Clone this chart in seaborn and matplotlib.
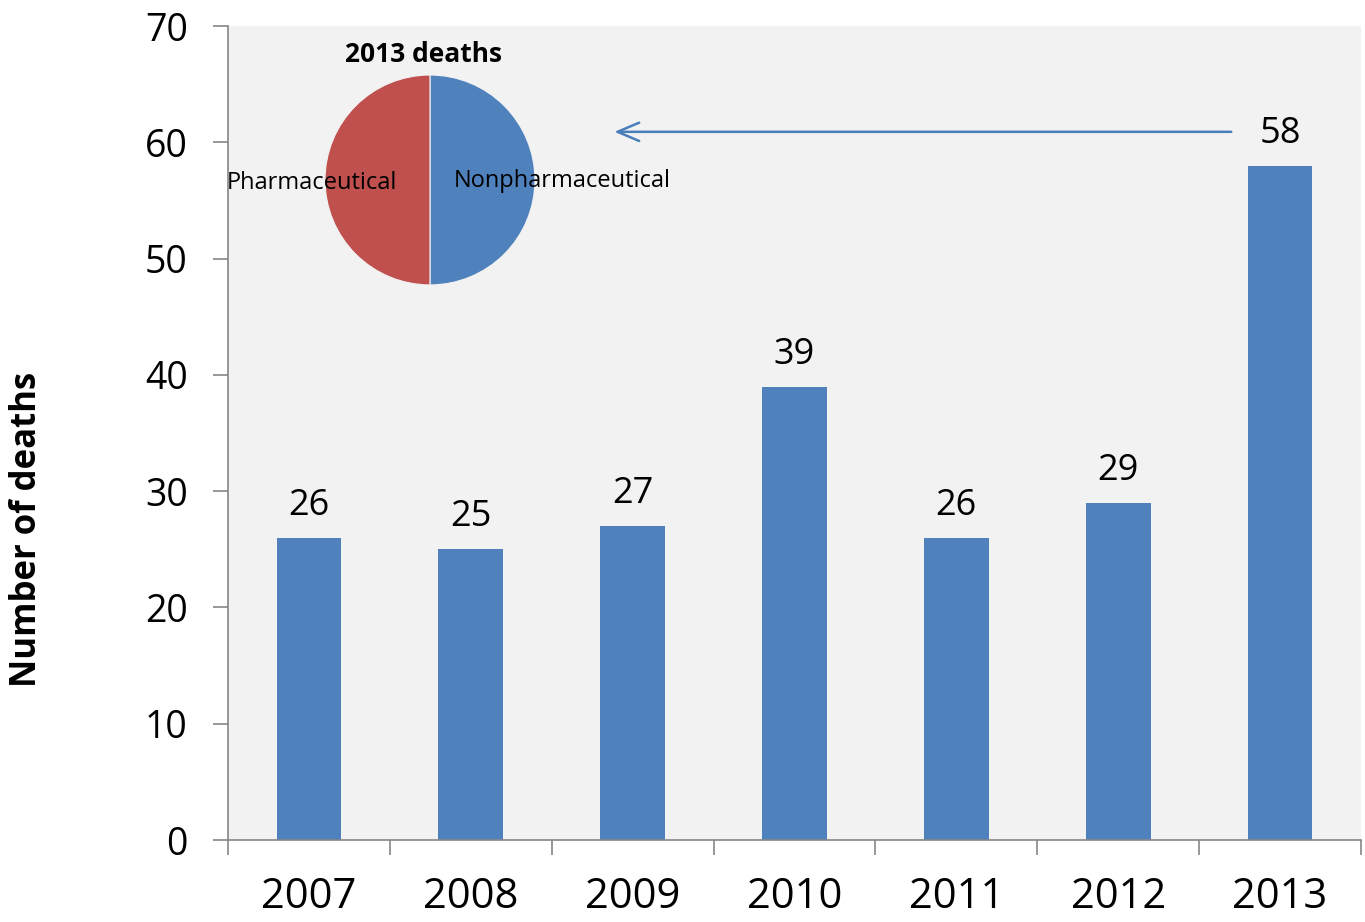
import matplotlib
matplotlib.use("Agg")
import matplotlib.pyplot as plt
import seaborn as sns
import pandas as pd

years = ["2007", "2008", "2009", "2010", "2011", "2012", "2013"]
deaths = [26, 25, 27, 39, 26, 29, 58]
pie_labels = ["Nonpharmaceutical", "Pharmaceutical"]
pie_values = [29, 29]

bar_blue = "#4f81bd"
pie_red = "#c0504d"
axis_gray = "#868686"

sns.set_theme(style="white")
plt.rcParams["font.family"] = ["Open Sans", "DejaVu Sans"]
plt.rcParams["text.color"] = "black"
plt.rcParams["xtick.color"] = "black"
plt.rcParams["ytick.color"] = "black"

df = pd.DataFrame({"year": years, "deaths": deaths})

fig = plt.figure(figsize=(13.65, 9.22), dpi=100)
ax = fig.add_axes([0.167, 0.0889, 0.830, 0.8829])
ax.set_facecolor("#f2f2f2")

sns.barplot(data=df, x="year", y="deaths", color=bar_blue, width=0.4,
            saturation=1, linewidth=0, ax=ax)

ax.set_ylim(0, 70)
ax.set_xlim(-0.5, len(years) - 0.5)
ax.set_yticks(range(0, 71, 10))
ax.set_xlabel("")
ax.set_ylabel("")

for c in ax.containers:
    ax.bar_label(c, labels=[str(v) for v in deaths], padding=10, fontsize=26,
                 color="black")

for side in ["top", "right"]:
    ax.spines[side].set_visible(False)
for side in ["left", "bottom"]:
    ax.spines[side].set_color(axis_gray)
    ax.spines[side].set_linewidth(1.2)

ax.tick_params(axis="y", which="major", direction="out", length=11, width=1.2,
               color=axis_gray, labelcolor="black", pad=18, labelsize=27,
               left=True)
ax.tick_params(axis="x", which="major", length=0, pad=26, labelsize=30,
               labelcolor="black")
ax.set_xticks([i - 0.5 for i in range(len(years) + 1)], minor=True)
ax.tick_params(axis="x", which="minor", direction="out", length=11, width=1.2,
               color=axis_gray, bottom=True)

fig.text(0.0195, 0.426, "Number of deaths", rotation=90, ha="center",
         va="center", fontsize=25, fontweight="bold", color="black")

# Arrow from the 2013 bar label toward the breakdown pie
ax.annotate("", xy=(1.87, 60.9), xytext=(5.716, 60.9),
            arrowprops=dict(arrowstyle="->,head_length=1.3,head_width=0.55",
                            color="#4a7ebb", lw=1.8))

# Inset pie with the 2013 split
pax = fig.add_axes([0.315 - 0.0769, 0.8048 - 0.1139, 0.1538, 0.2278])
wedges, texts = pax.pie(pie_values, labels=pie_labels,
                        colors=[bar_blue, pie_red], startangle=90,
                        counterclock=False, labeldistance=0.22,
                        wedgeprops=dict(linewidth=0.8, edgecolor="#f2f2f2"),
                        textprops=dict(fontsize=17, color="black"))
texts[0].set_position((0.23, -0.01))
texts[0].set_ha("left")
texts[1].set_position((-0.31, -0.03))
texts[1].set_ha("right")
pax.set_aspect("equal")
pax.set_xlim(-1, 1)
pax.set_ylim(-1, 1)
pax.text(-0.06, 1.2, "2013 deaths", ha="center", va="center", fontsize=19,
         fontweight="bold", color="black", clip_on=False)

fig.savefig("out.png", dpi=100)
